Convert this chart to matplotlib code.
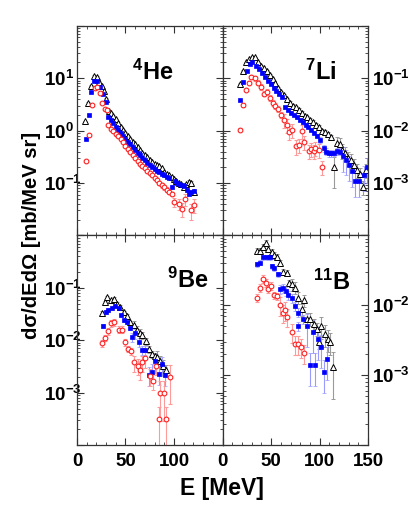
import math
import matplotlib
matplotlib.use("Agg")
import matplotlib.pyplot as plt
from matplotlib import ticker

plt.rcParams['font.family'] = ['Liberation Sans', 'DejaVu Sans']
plt.rcParams['font.weight'] = 'bold'
plt.rcParams['mathtext.fontset'] = 'custom'
plt.rcParams['mathtext.rm'] = 'Liberation Sans:bold'
plt.rcParams['mathtext.bf'] = 'Liberation Sans:bold'
plt.rcParams['mathtext.it'] = 'Liberation Sans:bold:italic'

# ---- 4He ----
he_E_tri = [8.3, 11.7, 14.5, 17.5, 20.3, 22.8, 25.3, 27.8, 30.3, 32.5, 35, 37.5, 40, 42.5, 45,
            47.5, 50, 52.5, 55, 57.5, 60, 62.5, 65, 67.5, 70, 72.5, 75, 77.5, 80, 82.5, 85,
            87.5, 90, 92.5, 95, 97.5, 100, 102.5, 105, 107.5, 110, 112.5, 115, 117.5, 120.5]
he_tri = [1.5, 3.4, 7.2, 11, 10.5, 8.6, 7.0, 5.6, 4.0, 2.4, 2.2, 1.9, 1.65, 1.4, 1.2,
          1.05, 0.92, 0.80, 0.70, 0.62, 0.55, 0.48, 0.42, 0.38, 0.34, 0.31, 0.28, 0.25, 0.23, 0.22, 0.21,
          0.19, 0.16, 0.15, 0.14, 0.13, 0.12, 0.11, 0.10, 0.095, 0.085, 0.095, 0.105, 0.10, 0.068]
he_tri_err = [0.03] * 40 + [0.06, 0.07, 0.08, 0.08, 0.1]

he_E_sq = [9.3, 11.9, 14.8, 17.7, 20.5, 23.5, 26.5, 29.5, 32.4, 35, 37.5, 40, 42.5, 45, 47.5,
           50, 52.5, 55, 57.5, 60, 62.5, 65, 67.5, 70, 72.5, 75, 77.5, 80, 82.5, 85, 87.5, 90,
           92.5, 95, 98, 100.5, 103, 105.5, 108, 110.5, 113, 115.7, 118, 120.5]
he_sq = [0.68, 2.0, 5.5, 8.9, 9.0, 6.8, 5.0, 3.5, 1.8, 1.6, 1.4, 1.2, 1.05, 0.92, 0.80,
         0.70, 0.62, 0.55, 0.48, 0.43, 0.38, 0.34, 0.30, 0.27, 0.245, 0.225, 0.20, 0.185, 0.17, 0.16, 0.15, 0.14,
         0.13, 0.125, 0.085, 0.11, 0.10, 0.095, 0.09, 0.088, 0.075, 0.062, 0.068, 0.072]
he_sq_err = [0.03] * 34 + [0.08] * 10

he_E_ci = [9.0, 11.9, 15.2, 18.3, 21.0, 23.8, 26.2, 29.0, 30.7, 32.4, 35, 37.5, 40, 42.5, 45,
           47.5, 50, 52.5, 55, 57.5, 60, 62.5, 65, 67.5, 70, 72.5, 75, 77.5, 80, 82.5, 85, 87.5,
           90, 92.5, 95, 97.5, 99.7, 105.5, 108, 111.6, 117.5, 120.2]
he_ci = [0.26, 0.84, 3.1, 6.6, 6.9, 5.2, 3.4, 2.6, 2.5, 1.26, 1.1, 0.98, 0.88, 0.78, 0.70,
         0.60, 0.52, 0.45, 0.39, 0.34, 0.30, 0.265, 0.235, 0.21, 0.19, 0.17, 0.155, 0.14, 0.125, 0.113, 0.10, 0.09,
         0.083, 0.075, 0.068, 0.062, 0.043, 0.040, 0.032, 0.049, 0.030, 0.038]
he_ci_err = [0.04] * 30 + [0.1] * 6 + [0.2, 0.25, 0.3, 0.25, 0.35, 0.3]

# ---- 7Li ----
li_E_tri = [17.7, 21, 24.5, 27.5, 30.5, 33.5, 36.5, 39.5, 42.5, 45.5, 48.5, 51.5, 54.5, 57.5,
            60.5, 63.5, 66.5, 69.5, 72.5, 75.5, 78.5, 81.5, 84.5, 87.5, 90.5, 93.5, 96.5, 99.5,
            102.5, 105.5, 108.5, 111.5, 114.6, 117.5, 120.5, 123.5, 126.5, 129.5, 132.5, 135.5,
            138.5, 141.5, 145, 148]
li_tri = [0.079, 0.14, 0.20, 0.23, 0.26, 0.25, 0.20, 0.175, 0.155, 0.14, 0.115, 0.095, 0.08, 0.065,
          0.055, 0.047, 0.040, 0.034, 0.030, 0.028, 0.025, 0.022, 0.019, 0.018, 0.016, 0.0145, 0.013, 0.0115,
          0.010, 0.0095, 0.0085, 0.0075, 0.0020, 0.0058, 0.0055, 0.0042, 0.0038, 0.0030, 0.0028, 0.0022,
          0.0018, 0.0015, 0.00085, 0.0018]
li_tri_err = [0.03] * 14 + [0.06] * 10 + [0.1] * 8 + [0.6] + [0.3] * 11

li_E_sq = [18.4, 21.5, 25.2, 28, 30.7, 34.2, 37.6, 40.5, 43.5, 46.5, 49.5, 52.5, 55.5, 58.5,
           61.5, 64.5, 67.5, 70.5, 73.5, 76.5, 79.5, 82.5, 85.5, 88.5, 91.5, 94.5, 97.5, 100.7,
           104.2, 107, 109.5, 112, 115, 118, 121, 124, 127, 130, 133, 136, 140.5, 145.7, 149]
li_sq = [0.038, 0.085, 0.138, 0.186, 0.20, 0.17, 0.15, 0.125, 0.105, 0.09, 0.078, 0.066, 0.057, 0.050,
         0.044, 0.028, 0.025, 0.022, 0.020, 0.018, 0.016, 0.0145, 0.013, 0.0118, 0.0105, 0.0092, 0.0080, 0.0067,
         0.0047, 0.0040, 0.0037, 0.0037, 0.0038, 0.0041, 0.0040, 0.0033, 0.0028, 0.0022, 0.0017, 0.0011,
         0.0011, 0.0014, 0.0020]
li_sq_err = [0.03] * 15 + [0.06] * 12 + [0.15] * 8 + [0.5] * 8

li_E_ci = [17.7, 21.1, 24.5, 27, 29.8, 33.2, 36.6, 40, 42.9, 45.3, 48.5, 51.5, 54.5, 57.5, 60.5,
           63, 66, 68.5, 71.5, 76, 78.6, 81.7, 83.4, 88.6, 91.5, 93.8, 95.5, 98.9, 102.5]
li_ci = [0.0105, 0.031, 0.061, 0.083, 0.106, 0.099, 0.083, 0.068, 0.051, 0.055, 0.042, 0.034, 0.030, 0.026,
         0.020, 0.016, 0.013, 0.0095, 0.0105, 0.0050, 0.0054, 0.0097, 0.0062, 0.0041, 0.0045, 0.0041, 0.0047,
         0.0043, 0.0020]
li_ci_err = [0.08] * 5 + [0.12] * 10 + [0.3] * 14

# ---- 9Be ----
be_E_tri = [25.5, 28.5, 31.4, 35, 38, 41.3, 44.7, 48, 51.4, 54.9, 58.3, 61.5, 64.5, 67.5, 71,
            74, 77.3, 80, 82.5, 85.5, 88.7, 92]
be_tri = [0.033, 0.053, 0.066, 0.058, 0.062, 0.050, 0.044, 0.034, 0.029, 0.022, 0.020, 0.016, 0.014,
          0.0125, 0.0095, 0.0068, 0.0055, 0.0050, 0.0049, 0.0041, 0.0033, 0.0027]
be_tri_err = [0.08] * 10 + [0.15] * 8 + [0.25] * 4

be_E_sq = [26.5, 30, 32.4, 35.9, 39.3, 42.8, 45.3, 48, 51.4, 54.2, 56.6, 60, 63.5, 67, 70.4,
           73.8, 77, 80.7, 84.2, 87.6, 91]
be_sq = [0.019, 0.035, 0.038, 0.041, 0.045, 0.041, 0.030, 0.024, 0.022, 0.017, 0.0116, 0.0135, 0.0093,
         0.0065, 0.0065, 0.0022, 0.0025, 0.0040, 0.0023, 0.0035, 0.0022]
be_sq_err = [0.08] * 10 + [0.2] * 5 + [0.4] * 6

be_E_ci = [26.2, 29, 32.4, 35.2, 38.2, 42.8, 46.2, 49.7, 52.4, 55.5, 59, 62.5, 64.5, 67, 70.4,
           75.6, 78.3, 81.8, 84.2, 85.9, 89.7, 92.1, 96.3]
be_ci = [0.0087, 0.0112, 0.015, 0.021, 0.022, 0.016, 0.016, 0.0093, 0.0069, 0.0062, 0.0038, 0.0033,
         0.0027, 0.0038, 0.0045, 0.0021, 0.0017, 0.0033, 0.00032, 0.00098, 0.00098, 0.00032, 0.0020]
be_ci_err = [0.15] * 10 + [0.35] * 8 + [0.7] * 5

# ---- 11B ----
b_E_tri = [35, 38.4, 41.9, 44.3, 47, 50.5, 53.3, 55.7, 59.2, 62.7, 66.1, 68.5, 72, 74.7, 78.2,
           81.6, 84.1, 86.8, 90.2, 93.7, 97.1, 99.5, 101.6, 105.8, 108.2, 111, 113.8]
b_tri = [0.060, 0.060, 0.069, 0.078, 0.065, 0.058, 0.052, 0.049, 0.040, 0.030, 0.029, 0.021, 0.020,
         0.018, 0.0129, 0.0088, 0.0118, 0.0064, 0.0064, 0.0054, 0.0046, 0.0030, 0.0051, 0.0039, 0.0033,
         0.0030, 0.0013]
b_tri_err = [0.1] * 12 + [0.2] * 10 + [0.35] * 4 + [0.65]

b_E_sq = [35, 38.4, 41.9, 45.3, 48.8, 50.5, 52.9, 56.7, 59.2, 61.9, 65.4, 67.8, 71.3, 74.7, 77.5,
          78.2, 82.7, 86.8, 90.2, 93, 95.2, 98.8, 101.3, 104.7, 107.5]
b_sq = [0.039, 0.041, 0.049, 0.049, 0.049, 0.036, 0.034, 0.028, 0.017, 0.0178, 0.0159, 0.0141, 0.0128,
        0.0098, 0.0050, 0.0079, 0.0064, 0.0050, 0.0014, 0.0041, 0.0014, 0.0033, 0.0025, 0.0011, 0.0017]
b_sq_err = [0.08] * 8 + [0.15] * 9 + [0.5] * 8

b_E_ci = [35, 38.4, 41.2, 44.3, 47, 49.8, 52.9, 55.7, 59.2, 61.9, 64.4, 66.1, 71.3, 74.7, 78.2,
          80.6, 84.1]
b_ci = [0.0129, 0.0178, 0.024, 0.021, 0.017, 0.019, 0.0141, 0.0135, 0.0100, 0.0079, 0.0086, 0.0069,
        0.0042, 0.0028, 0.0028, 0.0025, 0.0021]
b_ci_err = [0.12] * 8 + [0.3] * 9

styles = {
    "tri": dict(marker="^", mfc="white", mec="black", ms=4.0, mew=0.7, ecolor="#9a9a9a"),
    "sq": dict(marker="s", mfc="#0000ff", mec="#0000ff", ms=2.9, mew=0.5, ecolor="#9a9aff"),
    "ci": dict(marker="o", mfc="white", mec="#ff2020", ms=3.4, mew=0.8, ecolor="#ff9a9a"),
}


def draw(ax, data):
    for key, E, v, rel in data:
        st = dict(styles[key])
        ec = st.pop("ecolor")
        err = [x * r for x, r in zip(v, rel)]
        ax.errorbar(E, v, yerr=err, ls="none", ecolor=ec, elinewidth=0.8,
                    capsize=1.3, capthick=0.8, **st)


def decade_fmt(shown):
    def fmt(y, pos):
        e = round(math.log10(y))
        return r"$\mathdefault{10^{%d}}$" % e if e in shown else ""
    return ticker.FuncFormatter(fmt)


fig, axs = plt.subplots(2, 2, figsize=(4.16, 5.17), dpi=100)
fig.subplots_adjust(left=0.185, right=0.885, top=0.95, bottom=0.139, wspace=0, hspace=0)

panels = [
    (axs[0, 0], [("tri", he_E_tri, he_tri, he_tri_err), ("sq", he_E_sq, he_sq, he_sq_err),
                 ("ci", he_E_ci, he_ci, he_ci_err)],
     r"$^{4}$He", (0.66, 0.78), (1e-2, 1e2), [1, 0, -1], "left"),
    (axs[0, 1], [("tri", li_E_tri, li_tri, li_tri_err), ("sq", li_E_sq, li_sq, li_sq_err),
                 ("ci", li_E_ci, li_ci, li_ci_err)],
     r"$^{7}$Li", (0.78, 0.78), (1e-4, 1e0), [-1, -2, -3], "right"),
    (axs[1, 0], [("tri", be_E_tri, be_tri, be_tri_err), ("sq", be_E_sq, be_sq, be_sq_err),
                 ("ci", be_E_ci, be_ci, be_ci_err)],
     r"$^{9}$Be", (0.90, 0.785), (1e-4, 1e0), [-1, -2, -3], "left"),
    (axs[1, 1], [("tri", b_E_tri, b_tri, b_tri_err), ("sq", b_E_sq, b_sq, b_sq_err),
                 ("ci", b_E_ci, b_ci, b_ci_err)],
     r"$^{11}$B", (0.88, 0.775), (1e-4, 1e-1), [-2, -3], "right"),
]

for i, (ax, data, label, pos, ylim, shown, side) in enumerate(panels):
    draw(ax, data)
    ax.set_yscale("log")
    ax.set_xlim(0, 150)
    ax.set_ylim(*ylim)
    ax.text(pos[0], pos[1], label, transform=ax.transAxes, ha="right", va="center",
            fontsize=17, fontweight="bold")

    ax.yaxis.set_major_locator(ticker.LogLocator(base=10, numticks=10))
    ax.yaxis.set_minor_locator(ticker.LogLocator(base=10, subs=range(2, 10), numticks=10))
    ax.yaxis.set_major_formatter(decade_fmt(shown))
    ax.yaxis.set_minor_formatter(ticker.NullFormatter())

    ax.xaxis.set_major_locator(ticker.MultipleLocator(50))
    ax.xaxis.set_minor_locator(ticker.MultipleLocator(10))
    if i < 2:
        ax.xaxis.set_major_formatter(ticker.NullFormatter())
    elif i == 2:
        ax.xaxis.set_major_formatter(ticker.FuncFormatter(
            lambda x, p: "" if x > 120 else "%d" % x))

    ax.tick_params(which="both", direction="in", top=True, bottom=True, left=True, right=True,
                   labelsize=13.5, color="#333333")
    ax.tick_params(which="major", length=5, width=0.8)
    ax.tick_params(which="minor", length=2.5, width=0.6)
    ax.tick_params(axis="x", pad=5.5)
    if side == "right":
        ax.tick_params(axis="y", labelleft=False, labelright=True, pad=2.5)
    else:
        # labels start at a common left edge, as in the reference
        ax.tick_params(axis="y", pad=24)
        for t in ax.yaxis.get_major_ticks():
            t.label1.set_horizontalalignment("left")
    for sp in ax.spines.values():
        sp.set_linewidth(0.9)
        sp.set_color("#333333")

fig.text(0.076, 0.545, "dσ/dEdΩ [mb/MeV sr]", rotation=90, ha="center", va="center",
         fontsize=14.5, fontweight="bold")
fig.text(0.533, 0.055, "E [MeV]", ha="center", va="center", fontsize=16.5, fontweight="bold")

fig.savefig("out.png", dpi=100)
